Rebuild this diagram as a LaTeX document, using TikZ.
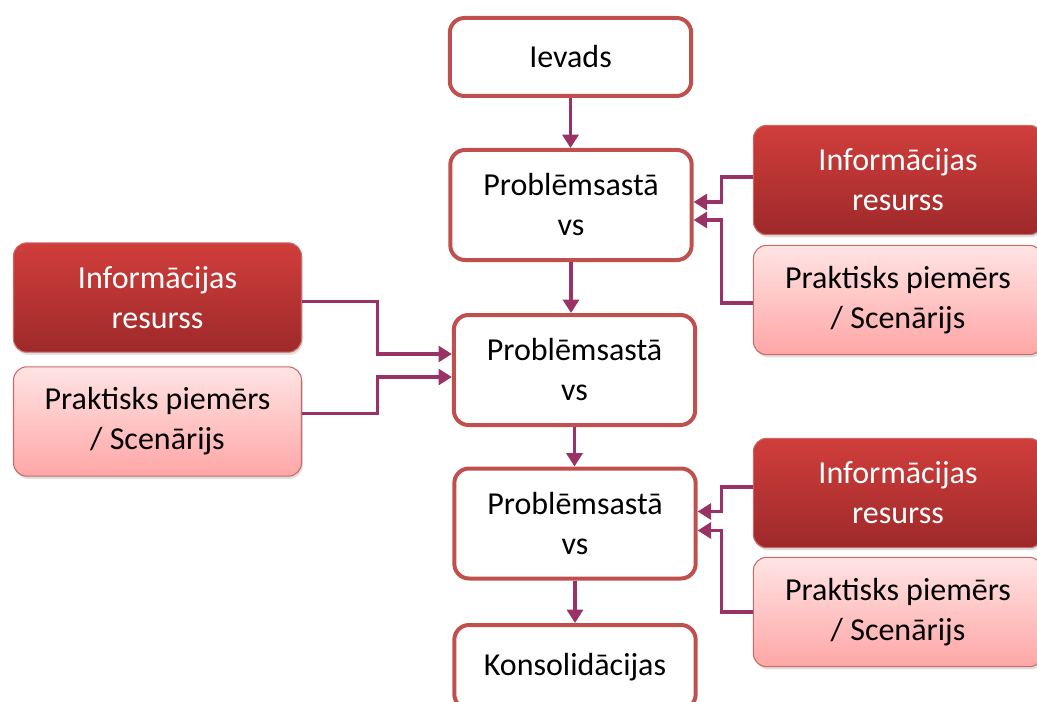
\documentclass[tikz,border=0pt]{standalone}
\usepackage{fontspec}
\setmainfont{Carlito}
\usetikzlibrary{calc,arrows.meta,shadows}
\definecolor{boxred}{RGB}{192,80,77}
\definecolor{linkpurple}{RGB}{153,51,102}
\definecolor{infotop}{RGB}{208,62,59}
\definecolor{infobot}{RGB}{158,41,42}
\definecolor{practop}{RGB}{255,228,228}
\definecolor{pracbot}{RGB}{255,166,166}

\begin{document}
\begin{tikzpicture}[x=0.75pt,y=-0.75pt,line join=round,
  font=\fontsize{24}{30}\selectfont,
  stepbox/.style={draw=boxred,line width=3pt,rounded corners=11pt,fill=white,align=center,minimum width=181pt,minimum height=82.5pt,inner sep=0pt},
  infobox/.style={draw=boxred!85!white,line width=0.8pt,rounded corners=10pt,top color=infotop,bottom color=infobot,text=white,align=center,minimum width=217pt,minimum height=82pt,inner sep=0pt,drop shadow={opacity=0.25,shadow xshift=1pt,shadow yshift=-2pt}},
  pracbox/.style={infobox,top color=practop,bottom color=pracbot,text=black},
  link/.style={draw=linkpurple,line width=2.3pt,line join=miter,-{Triangle[width=12pt,length=10pt]}}]
\useasboundingbox (0,0) rectangle (1037,702);

\node[stepbox,minimum height=58.5pt] (ievads) at (570.5,57) {Ievads};
\node[stepbox] (p1) at (571,205) {Problēmsastā\\vs};
\node[stepbox] (p2) at (574.5,370) {Problēmsastā\\vs};
\node[stepbox] (p3) at (575,523.5) {Problēmsastā\\vs};
\node[stepbox,minimum height=63pt] (kons) at (575,667) {Konsolidācijas};

\node[infobox] (infoA) at (898,180) {Informācijas\\resurss};
\node[pracbox] (pracA) at (898,300) {Praktisks piemērs\\/ Scenārijs};
\node[infobox,minimum width=216pt] (infoB) at (157.5,297.5) {Informācijas\\resurss};
\node[pracbox,minimum width=216pt] (pracB) at (157.5,421.5) {Praktisks piemērs\\/ Scenārijs};
\node[infobox] (infoC) at (898,493) {Informācijas\\resurss};
\node[pracbox] (pracC) at (898,612) {Praktisks piemērs\\/ Scenārijs};

\draw[link] (ievads.south) -- (ievads.south |- p1.north);
\draw[link] (p1.south) -- (p1.south |- p2.north);
\draw[link] (p2.south) -- (p2.south |- p3.north);
\draw[link] (p3.south) -- (p3.south |- kons.north);

\draw[link] ($(infoA.west)+(0,-3)$) -- ++(-31,0) |- ($(p1.east)+(0,-3)$);
\draw[link] ($(pracA.west)+(0,3)$) -- ++(-31,0) |- ($(p1.east)+(0,15)$);
\draw[link] ($(infoB.east)+(0,4)$) -- ++(75,0) |- ($(p2.west)+(0,-16)$);
\draw[link] ($(pracB.east)+(0,-8)$) -- ++(75,0) |- ($(p2.west)+(0,7)$);
\draw[link] ($(infoC.west)+(0,-6)$) -- ++(-31,0) |- ($(p3.east)+(0,-12)$);
\draw[link] (pracC.west) -- ++(-31,0) |- ($(p3.east)+(0,7)$);

\end{tikzpicture}
\end{document}
